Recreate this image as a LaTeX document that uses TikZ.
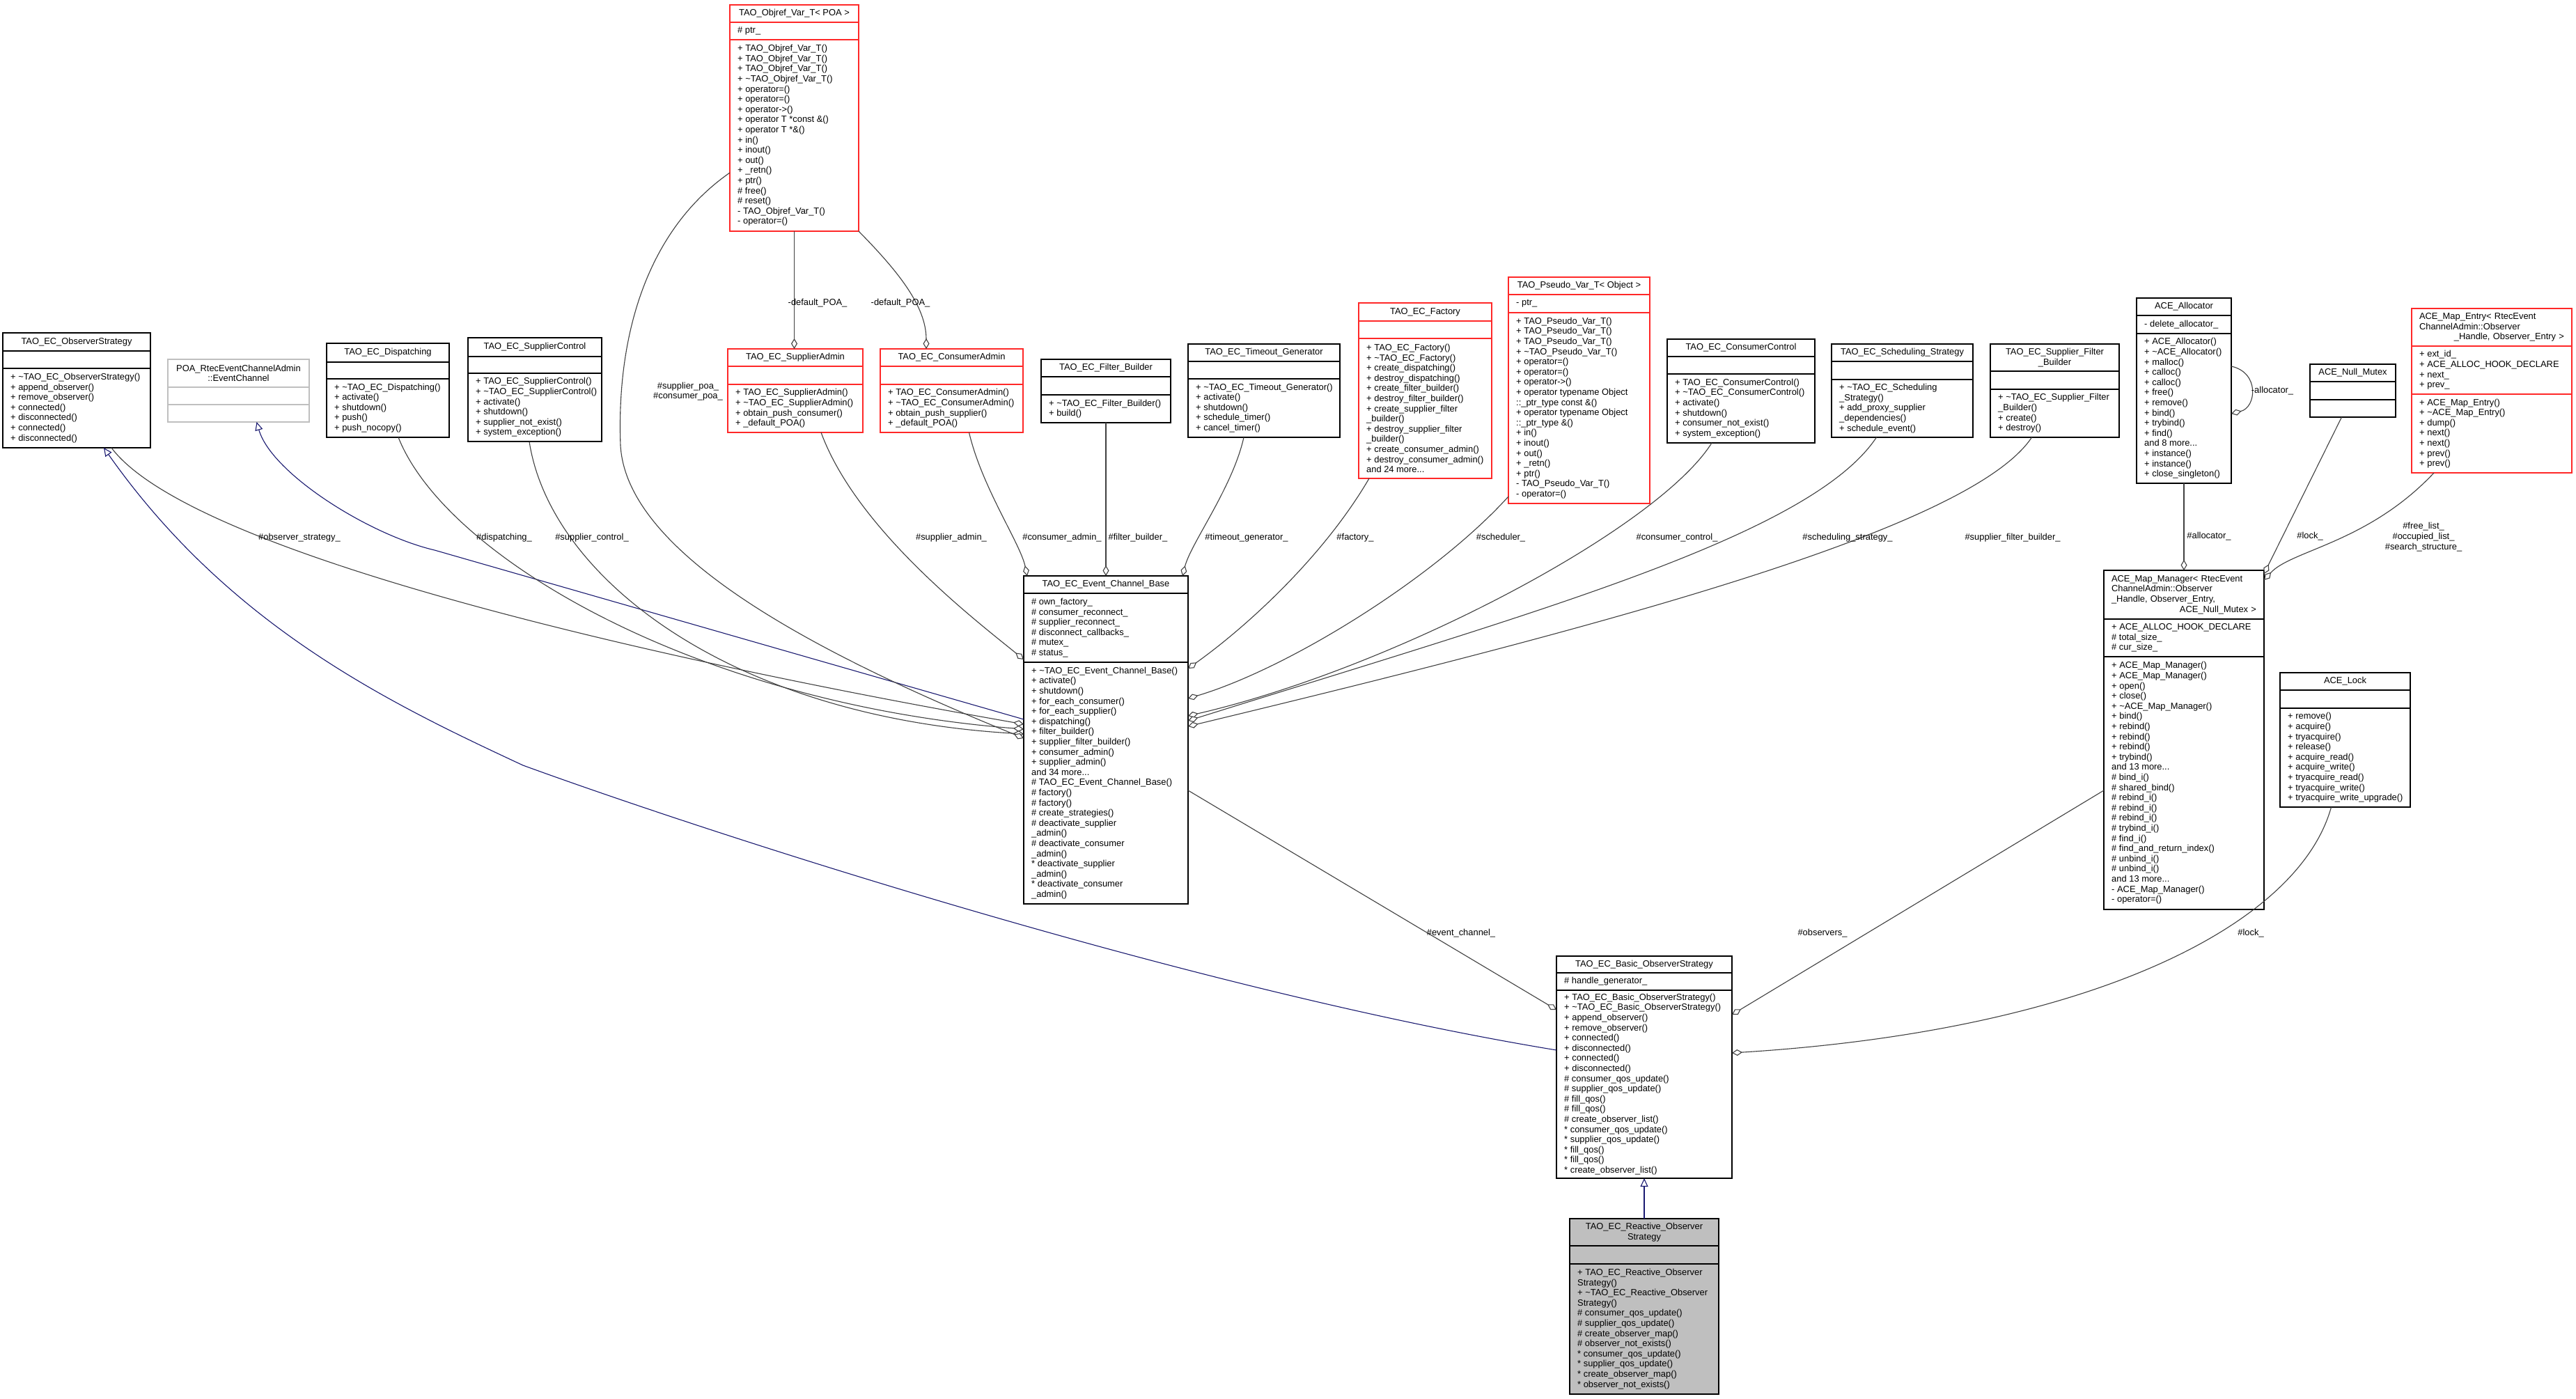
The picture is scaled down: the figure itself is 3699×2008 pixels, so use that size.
\documentclass[tikz,border=0pt]{standalone}
\usepackage{fontspec}
\setmainfont{Liberation Sans}
\usetikzlibrary{arrows.meta}
\definecolor{edgegray}{RGB}{64,64,64}
\definecolor{navyline}{RGB}{25,25,112}
\definecolor{boxred}{RGB}{255,40,40}
\definecolor{poagray}{RGB}{191,191,191}
\definecolor{selfgray}{RGB}{191,191,191}
\setlength\parindent{0pt}
\tikzset{
  diafont/.style={font=\fontsize{12.9}{14.6}\selectfont},
  bb/.style={draw=black, line width=1.4pt},
  br/.style={draw=boxred, line width=1.4pt},
  bg/.style={draw=poagray, line width=1.4pt},
  bself/.style={draw=black, line width=1.4pt, fill=selfgray},
  classbox/.style={rectangle, inner sep=0pt, outer sep=0pt, fill=white},
  ttl/.style={diafont, align=center, inner sep=0pt},
  mem/.style={diafont, align=left, inner sep=0pt, anchor=west},
  lbl/.style={diafont, align=center, inner sep=0pt},
  agg/.style={draw=edgegray, line width=1.1pt, -{Diamond[fill=white, length=15pt, width=9pt]}},
  inh/.style={draw=navyline, line width=1.1pt, -{Triangle[fill=white, length=12pt, width=11pt]}},
}
% name, x, y, width, title h, attr h, method h, style
\newcommand\umlbox[8]{%
  \node[classbox,#8,minimum width=#4pt,minimum height={(#5+#6+#7)*1pt},anchor=north west] (#1) at (#2,#3) {};
  \draw[#8] (#1.north west) ++(0,#5) -- ++(#4,0);
  \draw[#8] (#1.north west) ++(0,#5+#6) -- ++(#4,0);
  \path (#1.north west) ++(0.5*#4,0.5*#5) coordinate (#1-tc);
  \path (#1.north west) ++(11,#5+0.5*#6) coordinate (#1-ac);
  \path (#1.north west) ++(11,#5+#6+0.5*#7) coordinate (#1-mc);
}
\newcommand\umltext[5][]{%
  \node[ttl,#1] (#2-T) at (#2-tc) {#3};
  \if\relax\detokenize{#4}\relax\else\node[mem] (#2-A) at (#2-ac) {#4};\fi
  \if\relax\detokenize{#5}\relax\else\node[mem] (#2-M) at (#2-mc) {#5};\fi
}
\begin{document}
\begin{tikzpicture}[x=1pt,y=-1pt]
\fill[white] (0,0) rectangle (3699,2008);
\useasboundingbox (0,0) rectangle (3699,2008);

% ---------------- boxes ----------------
\umlbox{objref}{1048}{7}{185}{25}{25}{275}{br}
\umltext{objref}{TAO\_Objref\_Var\_T< POA >}{\# ptr\_}{%
+ TAO\_Objref\_Var\_T()\\+ TAO\_Objref\_Var\_T()\\+ TAO\_Objref\_Var\_T()\\+ \textasciitilde TAO\_Objref\_Var\_T()\\%
+ operator=()\\+ operator=()\\+ operator->()\\+ operator T *const \&()\\+ operator T *\&()\\%
+ in()\\+ inout()\\+ out()\\+ \_retn()\\+ ptr()\\\# free()\\\# reset()\\- TAO\_Objref\_Var\_T()\\- operator=()}

\umlbox{obs}{4}{478}{212}{26}{25}{114}{bb}
\umltext{obs}{TAO\_EC\_ObserverStrategy}{}{%
+ \textasciitilde TAO\_EC\_ObserverStrategy()\\+ append\_observer()\\+ remove\_observer()\\+ connected()\\+ disconnected()\\+ connected()\\+ disconnected()}

\umlbox{poa}{241}{516}{203}{40}{25}{25}{bg}
\umltext{poa}{POA\_RtecEventChannelAdmin\\::EventChannel}{}{}

\umlbox{disp}{469}{493}{176}{27}{24}{84}{bb}
\umltext{disp}{TAO\_EC\_Dispatching}{}{%
+ \textasciitilde TAO\_EC\_Dispatching()\\+ activate()\\+ shutdown()\\+ push()\\+ push\_nocopy()}

\umlbox{sctl}{672}{485}{192}{27}{24}{98}{bb}
\umltext{sctl}{TAO\_EC\_SupplierControl}{}{%
+ TAO\_EC\_SupplierControl()\\+ \textasciitilde TAO\_EC\_SupplierControl()\\+ activate()\\+ shutdown()\\+ supplier\_not\_exist()\\+ system\_exception()}

\umlbox{sadm}{1045}{501}{194}{25}{26}{69}{br}
\umltext{sadm}{TAO\_EC\_SupplierAdmin}{}{%
+ TAO\_EC\_SupplierAdmin()\\+ \textasciitilde TAO\_EC\_SupplierAdmin()\\+ obtain\_push\_consumer()\\+ \_default\_POA()}

\umlbox{cadm}{1264}{501}{205}{25}{26}{69}{br}
\umltext{cadm}{TAO\_EC\_ConsumerAdmin}{}{%
+ TAO\_EC\_ConsumerAdmin()\\+ \textasciitilde TAO\_EC\_ConsumerAdmin()\\+ obtain\_push\_supplier()\\+ \_default\_POA()}

\umlbox{fb}{1495}{516}{186}{25}{26}{40}{bb}
\umltext{fb}{TAO\_EC\_Filter\_Builder}{}{%
+ \textasciitilde TAO\_EC\_Filter\_Builder()\\+ build()}

\umlbox{tg}{1706}{494}{218}{25}{25}{84}{bb}
\umltext{tg}{TAO\_EC\_Timeout\_Generator}{}{%
+ \textasciitilde TAO\_EC\_Timeout\_Generator()\\+ activate()\\+ shutdown()\\+ schedule\_timer()\\+ cancel\_timer()}

\umlbox{fac}{1951}{435}{191}{26}{25}{201}{br}
\umltext{fac}{TAO\_EC\_Factory}{}{%
+ TAO\_EC\_Factory()\\+ \textasciitilde TAO\_EC\_Factory()\\+ create\_dispatching()\\+ destroy\_dispatching()\\%
+ create\_filter\_builder()\\+ destroy\_filter\_builder()\\+ create\_supplier\_filter\\\_builder()\\%
+ destroy\_supplier\_filter\\\_builder()\\+ create\_consumer\_admin()\\+ destroy\_consumer\_admin()\\and 24 more...}

\umlbox{pv}{2166}{398}{203}{25}{26}{274}{br}
\umltext{pv}{TAO\_Pseudo\_Var\_T< Object >}{- ptr\_}{%
+ TAO\_Pseudo\_Var\_T()\\+ TAO\_Pseudo\_Var\_T()\\+ TAO\_Pseudo\_Var\_T()\\+ \textasciitilde TAO\_Pseudo\_Var\_T()\\%
+ operator=()\\+ operator=()\\+ operator->()\\+ operator typename Object\\::\_ptr\_type const \&()\\%
+ operator typename Object\\::\_ptr\_type \&()\\+ in()\\+ inout()\\+ out()\\+ \_retn()\\+ ptr()\\%
- TAO\_Pseudo\_Var\_T()\\- operator=()}

\umlbox{cctl}{2394}{487}{212}{25}{25}{99}{bb}
\umltext{cctl}{TAO\_EC\_ConsumerControl}{}{%
+ TAO\_EC\_ConsumerControl()\\+ \textasciitilde TAO\_EC\_ConsumerControl()\\+ activate()\\+ shutdown()\\+ consumer\_not\_exist()\\+ system\_exception()}

\umlbox{sched}{2630}{494}{203}{25}{26}{83}{bb}
\umltext{sched}{TAO\_EC\_Scheduling\_Strategy}{}{%
+ \textasciitilde TAO\_EC\_Scheduling\\\_Strategy()\\+ add\_proxy\_supplier\\\_dependencies()\\+ schedule\_event()}

\umlbox{sfb}{2858}{494}{185}{39}{26}{69}{bb}
\umltext{sfb}{TAO\_EC\_Supplier\_Filter\\\_Builder}{}{%
+ \textasciitilde TAO\_EC\_Supplier\_Filter\\\_Builder()\\+ create()\\+ destroy()}

\umlbox{alloc}{3068}{428}{136}{25}{26}{215}{bb}
\umltext{alloc}{ACE\_Allocator}{- delete\_allocator\_}{%
+ ACE\_Allocator()\\+ \textasciitilde ACE\_Allocator()\\+ malloc()\\+ calloc()\\+ calloc()\\+ free()\\+ remove()\\%
+ bind()\\+ trybind()\\+ find()\\and 8 more...\\+ instance()\\+ instance()\\+ close\_singleton()}

\umlbox{nm}{3317}{523}{123}{25}{26}{25}{bb}
\umltext{nm}{ACE\_Null\_Mutex}{}{}

\umlbox{me}{3463}{443}{230}{54}{69}{113}{br}
\umltext[text width=208pt, align=left]{me}{ACE\_Map\_Entry< RtecEvent\\ChannelAdmin::Observer\\\hspace*{\fill}\_Handle, Observer\_Entry >\hspace*{\fill}}{%
+ ext\_id\_\\+ ACE\_ALLOC\_HOOK\_DECLARE\\+ next\_\\+ prev\_}{%
+ ACE\_Map\_Entry()\\+ \textasciitilde ACE\_Map\_Entry()\\+ dump()\\+ next()\\+ next()\\+ prev()\\+ prev()}

\umlbox{ecb}{1470}{827}{236}{25}{99}{347}{bb}
\umltext{ecb}{TAO\_EC\_Event\_Channel\_Base}{%
\# own\_factory\_\\\# consumer\_reconnect\_\\\# supplier\_reconnect\_\\\# disconnect\_callbacks\_\\\# mutex\_\\\# status\_}{%
+ \textasciitilde TAO\_EC\_Event\_Channel\_Base()\\+ activate()\\+ shutdown()\\+ for\_each\_consumer()\\+ for\_each\_supplier()\\%
+ dispatching()\\+ filter\_builder()\\+ supplier\_filter\_builder()\\+ consumer\_admin()\\+ supplier\_admin()\\and 34 more...\\%
\# TAO\_EC\_Event\_Channel\_Base()\\\# factory()\\\# factory()\\\# create\_strategies()\\%
\# deactivate\_supplier\\\_admin()\\\# deactivate\_consumer\\\_admin()\\%
* deactivate\_supplier\\\_admin()\\* deactivate\_consumer\\\_admin()}

\umlbox{mm}{3021}{819}{230}{70}{54}{363}{bb}
\umltext[text width=208pt, align=left]{mm}{ACE\_Map\_Manager< RtecEvent\\ChannelAdmin::Observer\\\_Handle, Observer\_Entry,\\\hspace*{\fill}ACE\_Null\_Mutex >\hspace*{\fill}}{%
+ ACE\_ALLOC\_HOOK\_DECLARE\\\# total\_size\_\\\# cur\_size\_}{%
+ ACE\_Map\_Manager()\\+ ACE\_Map\_Manager()\\+ open()\\+ close()\\+ \textasciitilde ACE\_Map\_Manager()\\+ bind()\\%
+ rebind()\\+ rebind()\\+ rebind()\\+ trybind()\\and 13 more...\\\# bind\_i()\\\# shared\_bind()\\%
\# rebind\_i()\\\# rebind\_i()\\\# rebind\_i()\\\# trybind\_i()\\\# find\_i()\\\# find\_and\_return\_index()\\%
\# unbind\_i()\\\# unbind\_i()\\and 13 more...\\- ACE\_Map\_Manager()\\- operator=()}

\umlbox{lock}{3274}{966}{187}{25}{26}{142}{bb}
\umltext{lock}{ACE\_Lock}{}{%
+ remove()\\+ acquire()\\+ tryacquire()\\+ release()\\+ acquire\_read()\\+ acquire\_write()\\%
+ tryacquire\_read()\\+ tryacquire\_write()\\+ tryacquire\_write\_upgrade()}

\umlbox{basic}{2235}{1373}{252}{24}{25}{270}{bb}
\umltext{basic}{TAO\_EC\_Basic\_ObserverStrategy}{\# handle\_generator\_}{%
+ TAO\_EC\_Basic\_ObserverStrategy()\\+ \textasciitilde TAO\_EC\_Basic\_ObserverStrategy()\\+ append\_observer()\\%
+ remove\_observer()\\+ connected()\\+ disconnected()\\+ connected()\\+ disconnected()\\%
\# consumer\_qos\_update()\\\# supplier\_qos\_update()\\\# fill\_qos()\\\# fill\_qos()\\\# create\_observer\_list()\\%
* consumer\_qos\_update()\\* supplier\_qos\_update()\\* fill\_qos()\\* fill\_qos()\\* create\_observer\_list()}

\umlbox{react}{2254}{1750}{214}{39}{26}{187}{bself}
\umltext{react}{TAO\_EC\_Reactive\_Observer\\Strategy}{}{%
+ TAO\_EC\_Reactive\_Observer\\Strategy()\\+ \textasciitilde TAO\_EC\_Reactive\_Observer\\Strategy()\\%
\# consumer\_qos\_update()\\\# supplier\_qos\_update()\\\# create\_observer\_map()\\\# observer\_not\_exists()\\%
* consumer\_qos\_update()\\* supplier\_qos\_update()\\* create\_observer\_map()\\* observer\_not\_exists()}

% ---------------- inheritance ----------------
\draw[inh] (react.north) -- (basic.south);
\draw[inh] ([yshift=-135pt]basic.north west) .. controls (1700,1420) and (1000,1190) .. (751,1099)
  .. controls (560,1010) and (330,900) .. ([xshift=39pt]obs.south);
\draw[inh] ([yshift=-206pt]ecb.north west) -- (624,790) .. controls (530,768) and (390,680) .. ([xshift=26pt]poa.south);

% ---------------- aggregation ----------------
\draw[agg] ([xshift=50pt]obs.south) .. controls (270,790) and (900,940) .. ([yshift=-213pt]ecb.north west);
\draw[agg] ([xshift=15pt]disp.south) .. controls (640,800) and (1000,1010) .. ([yshift=-220pt]ecb.north west);
\draw[agg] ([xshift=-8pt]sctl.south) .. controls (790,830) and (1050,1030) .. ([yshift=-227pt]ecb.north west);
\draw[agg] ([yshift=-241pt]objref.north west) .. controls (930,330) and (885,480) .. (891,640)
  .. controls (900,790) and (1150,930) .. ([yshift=-233pt]ecb.north west);
\draw[agg] ([xshift=37pt]sadm.south) .. controls (1230,760) and (1400,890) .. ([yshift=-120pt]ecb.north west);
\draw[agg] ([xshift=25pt]cadm.south) .. controls (1410,700) and (1465,780) .. ([xshift=5pt]ecb.north west);
\draw[agg] (fb.south) -- ([xshift=118pt]ecb.north west);
\draw[agg] ([xshift=-29pt]tg.south) .. controls (1770,700) and (1710,780) .. ([xshift=-8pt]ecb.north east);
\draw[agg] ([xshift=15pt]fac.south west) .. controls (1900,800) and (1790,900) .. ([yshift=-133pt]ecb.north east);
\draw[agg] ([yshift=-315pt]pv.north west) .. controls (2060,830) and (1850,960) .. ([yshift=-176pt]ecb.north east);
\draw[agg] ([xshift=-42pt]cctl.south) .. controls (2380,760) and (2000,960) .. ([yshift=-201pt]ecb.north east);
\draw[agg] ([xshift=-37pt]sched.south) .. controls (2600,770) and (2200,880) .. ([yshift=-208pt]ecb.north east);
\draw[agg] ([xshift=-33pt]sfb.south) .. controls (2830,760) and (2300,900) .. ([yshift=-216pt]ecb.north east);
\draw[agg] ([yshift=-308pt]ecb.north east) -- ([yshift=-77pt]basic.north west);
\draw[agg] ([yshift=-316pt]mm.north west) -- ([yshift=-84pt]basic.north east);
\draw[agg] ([xshift=-20pt]lock.south) .. controls (3300,1330) and (3000,1480) .. ([yshift=-139pt]basic.north east);
\draw[agg] (alloc.south) -- (mm.north);
\draw[agg] ([xshift=-16pt]nm.south) -- ([yshift=-5pt]mm.north east);
\draw[agg] ([xshift=-83pt]me.south) .. controls (3400,780) and (3290,790) .. ([yshift=-14pt]mm.north east);
\draw[agg] ([yshift=-98pt]alloc.north east) .. controls (3245,535) and (3240,585) .. ([yshift=-166pt]alloc.north east);
\draw[agg] (objref.south) -- (objref.south |- sadm.north);
\draw[agg] (objref.south east) .. controls (1290,390) and (1330,440) .. ([xshift=-36.5pt]cadm.north);

% ---------------- labels ----------------
\node[lbl] (l1) at (430,772) {\#observer\_strategy\_};
\node[lbl] (l2) at (724,772) {\#dispatching\_};
\node[lbl] (l3) at (850,772) {\#supplier\_control\_};
\node[lbl] (l4) at (988,562) {\#supplier\_poa\_\\\#consumer\_poa\_};
\node[lbl] (l5) at (1366,772) {\#supplier\_admin\_};
\node[lbl] (l6) at (1525,772) {\#consumer\_admin\_};
\node[lbl] (l7) at (1634,772) {\#filter\_builder\_};
\node[lbl] (l8) at (1790,772) {\#timeout\_generator\_};
\node[lbl] (l9) at (1946,772) {\#factory\_};
\node[lbl] (l10) at (2155,772) {\#scheduler\_};
\node[lbl] (l11) at (2408,772) {\#consumer\_control\_};
\node[lbl] (l12) at (2653,772) {\#scheduling\_strategy\_};
\node[lbl] (l13) at (2890,772) {\#supplier\_filter\_builder\_};
\node[lbl] (l14) at (1174,435) {-default\_POA\_};
\node[lbl] (l15) at (1293,435) {-default\_POA\_};
\node[lbl] (l16) at (2098,1340) {\#event\_channel\_};
\node[lbl] (l17) at (2617,1340) {\#observers\_};
\node[lbl] (l18) at (3232,1340) {\#lock\_};
\node[lbl] (l19) at (3172,770) {\#allocator\_};
\node[lbl] (l20) at (3317,770) {\#lock\_};
\node[lbl] (l21) at (3480,771) {\#free\_list\_\\\#occupied\_list\_\\\#search\_structure\_};
\node[lbl] (l22) at (3263,561) {-allocator\_};
\end{tikzpicture}
\end{document}
